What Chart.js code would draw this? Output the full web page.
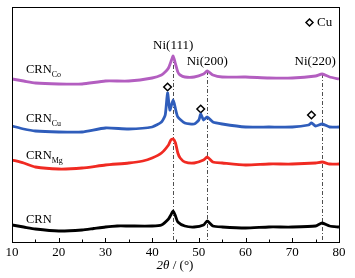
<!DOCTYPE html>
<html>
<head>
<meta charset="utf-8">
<script src="https://cdn.jsdelivr.net/npm/chart.js@4.4.1/dist/chart.umd.min.js"></script>
<style>
    html, body { margin: 0; padding: 0; background: #fff; }
    #wrap { width: 355px; height: 278px; }
</style>
</head>
<body>
<div id="wrap"><canvas id="xrd"></canvas></div>
<script>
// ============================================================================
// XRD PATTERNS: 2θ (°) against intensity (a.u., each sample offset upwards)
// ============================================================================

const crnAngles  = [10, 12.5, 15, 20, 25, 27.5, 30, 32.5, 35, 40, 42, 43.5, 44, 44.5, 45, 45.5, 47, 49, 51, 51.8, 53, 55, 60, 65, 70, 75, 76.4, 78, 80];
const crnValues  = [17, 15, 13, 11, 12, 13.5, 15, 16, 16, 16, 17, 23, 27, 31, 26, 20, 16, 15, 17, 21, 16, 15, 14, 15, 15, 16, 19, 16, 15];

const mgAngles   = [10, 12.5, 15, 20, 25, 30, 35, 38, 40, 42, 43.5, 44, 44.5, 45, 45.5, 46, 47, 49, 51, 51.8, 53, 55, 60, 65, 70, 75, 76.4, 78, 80];
const mgValues   = [82, 79, 75, 73, 74, 77, 79, 81, 84, 89, 97, 102, 103, 99, 89, 84, 80, 79, 82, 85, 80, 79, 77, 78, 78, 79, 80, 78, 78];

const cuAngles   = [10, 12.5, 15, 20, 25, 30, 35, 40, 42, 42.8, 43.3, 43.8, 44.5, 45, 45.5, 47, 49, 50, 50.4, 51, 51.8, 53, 55, 60, 65, 70, 73.5, 74.1, 75, 76.4, 78, 80];
const cuValues   = [116, 113, 111, 110, 110, 114, 113, 115, 120, 127, 149, 132, 142, 133, 125, 119, 118, 122, 128, 122, 125, 120, 118, 115, 115, 115, 117, 119, 116, 118, 115, 115];

const coAngles   = [10, 12.5, 15, 20, 25, 30, 35, 40, 42, 43, 43.5, 44, 44.5, 45, 45.5, 46, 47, 49, 51, 51.8, 53, 55, 60, 65, 70, 75, 76.4, 78, 80];
const coValues   = [163, 161, 159, 158, 158, 161, 161, 164, 167, 171, 174, 180, 186, 178, 170, 167, 165, 165, 168, 171, 167, 165, 165, 164, 164, 166, 168, 165, 163];

// Cu reflections marked with diamonds on the CRN_Cu pattern
const cuPeakAngles = [43.3, 50.4, 74.1];
const cuPeakMarks  = [155, 133, 127];

// Ni reflections (dash-dot guide lines, top ends at the CRN_Co pattern)
const niLabels  = ['Ni(111)', 'Ni(200)', 'Ni(220)'];
const niAngles  = [44.5, 51.8, 76.4];
const niTops    = [186, 171, 168];

const sampleNames = ['CRN', 'CRN', 'CRN', 'CRN'];
const sampleSubs  = ['Co', 'Cu', 'Mg', ''];

// ----------------------------------------------------------------------------
const SERIF = '"Liberation Serif", "Times New Roman", serif';

function pairs(xs, ys) {
    return xs.map((x, i) => ({ x: x, y: ys[i] }));
}

function curve(data, color) {
    return {
        data: data,
        borderColor: color,
        borderWidth: 2.8,
        pointRadius: 0,
        tension: 0.2,
        fill: false
    };
}

const decorPlugin = {
    id: 'decor',
    beforeDatasetsDraw(chart) {
        const { ctx, chartArea: a, scales: { x, y } } = chart;
        ctx.save();
        ctx.strokeStyle = '#222';
        ctx.lineWidth = 0.8;
        ctx.setLineDash([4, 2, 1, 2]);
        niAngles.forEach((ang, i) => {
            const px = Math.round(x.getPixelForValue(ang)) + 0.5;
            ctx.beginPath();
            ctx.moveTo(px, y.getPixelForValue(niTops[i]));
            ctx.lineTo(px, a.bottom);
            ctx.stroke();
        });
        ctx.restore();
    },
    afterDatasetsDraw(chart) {
        const { ctx, chartArea: a, scales: { x, y } } = chart;
        ctx.save();

        // frame
        ctx.strokeStyle = '#000';
        ctx.lineWidth = 1;
        ctx.strokeRect(Math.round(a.left) + 0.5, Math.round(a.top) + 0.5,
                       Math.round(a.right - a.left), Math.round(a.bottom - a.top));

        // inward ticks, major every 10°, minor every 5°
        for (let v = 10; v <= 80; v += 5) {
            const px = Math.round(x.getPixelForValue(v)) + 0.5;
            const len = v % 10 === 0 ? 4 : 2.5;
            ctx.beginPath();
            ctx.moveTo(px, a.bottom);
            ctx.lineTo(px, a.bottom - len);
            ctx.stroke();
        }

        ctx.fillStyle = '#000';
        ctx.textBaseline = 'middle';

        // Ni labels
        ctx.font = '13px ' + SERIF;
        ctx.textAlign = 'center';
        ctx.fillText(niLabels[0], x.getPixelForValue(niAngles[0]), 46);
        ctx.fillText(niLabels[1], x.getPixelForValue(niAngles[1]), 62);
        ctx.fillText(niLabels[2], x.getPixelForValue(niAngles[2]) - 7, 62);

        // sample labels with subscripts
        const labelY = [70, 119, 156, 220];
        ctx.textAlign = 'left';
        sampleNames.forEach((name, i) => {
            ctx.font = '12.5px ' + SERIF;
            ctx.fillText(name, 26, labelY[i]);
            const w = ctx.measureText(name).width;
            if (sampleSubs[i]) {
                ctx.font = '8px ' + SERIF;
                ctx.fillText(sampleSubs[i], 26 + w, labelY[i] + 5);
            }
        });

        // legend: ◇ Cu
        ctx.strokeStyle = '#000';
        ctx.lineWidth = 1.5;
        ctx.beginPath();
        ctx.moveTo(309.5, 19);
        ctx.lineTo(313, 22.5);
        ctx.lineTo(309.5, 26);
        ctx.lineTo(306, 22.5);
        ctx.closePath();
        ctx.stroke();
        ctx.font = '13px ' + SERIF;
        ctx.fillText('Cu', 317, 23);

        // axis title: 2θ / (°)
        const t1 = '2θ', t2 = ' / (°)';
        ctx.font = 'italic 13px ' + SERIF;
        const w1 = ctx.measureText(t1).width;
        ctx.font = '13px ' + SERIF;
        const w2 = ctx.measureText(t2).width;
        const x0 = 175 - (w1 + w2) / 2;
        ctx.font = 'italic 13px ' + SERIF;
        ctx.fillText(t1, x0, 266);
        ctx.font = '13px ' + SERIF;
        ctx.fillText(t2, x0 + w1, 266);

        ctx.restore();
    }
};

const chart = new Chart(document.getElementById('xrd'), {
    type: 'line',
    data: {
        datasets: [
            curve(pairs(crnAngles, crnValues), '#000000'),
            curve(pairs(mgAngles, mgValues), '#f02a22'),
            curve(pairs(cuAngles, cuValues), '#2f5dbb'),
            curve(pairs(coAngles, coValues), '#b35ec0'),
            {
                type: 'scatter',
                data: pairs(cuPeakAngles, cuPeakMarks),
                pointStyle: 'rectRot',
                pointRadius: 3.8,
                pointBorderWidth: 1.5,
                pointBorderColor: '#000',
                pointBackgroundColor: '#fff',
                showLine: false
            }
        ]
    },
    options: {
        responsive: true,
        maintainAspectRatio: false,
        animation: false,
        layout: { padding: { left: 12, right: 16, top: 7, bottom: 0 } },
        plugins: {
            legend: { display: false },
            tooltip: { enabled: false }
        },
        scales: {
            x: {
                type: 'linear',
                min: 10,
                max: 80,
                grid: { display: false, drawTicks: false },
                border: { display: false },
                ticks: {
                    stepSize: 5,
                    autoSkip: false,
                    maxRotation: 0,
                    padding: 3,
                    color: '#000',
                    font: { family: SERIF, size: 13 },
                    callback: v => (v % 10 === 0 ? v : '')
                },
                afterFit: s => { s.height = 36; }
            },
            y: {
                display: false,
                min: 0,
                max: 235
            }
        }
    },
    plugins: [decorPlugin]
});
</script>
</body>
</html>
